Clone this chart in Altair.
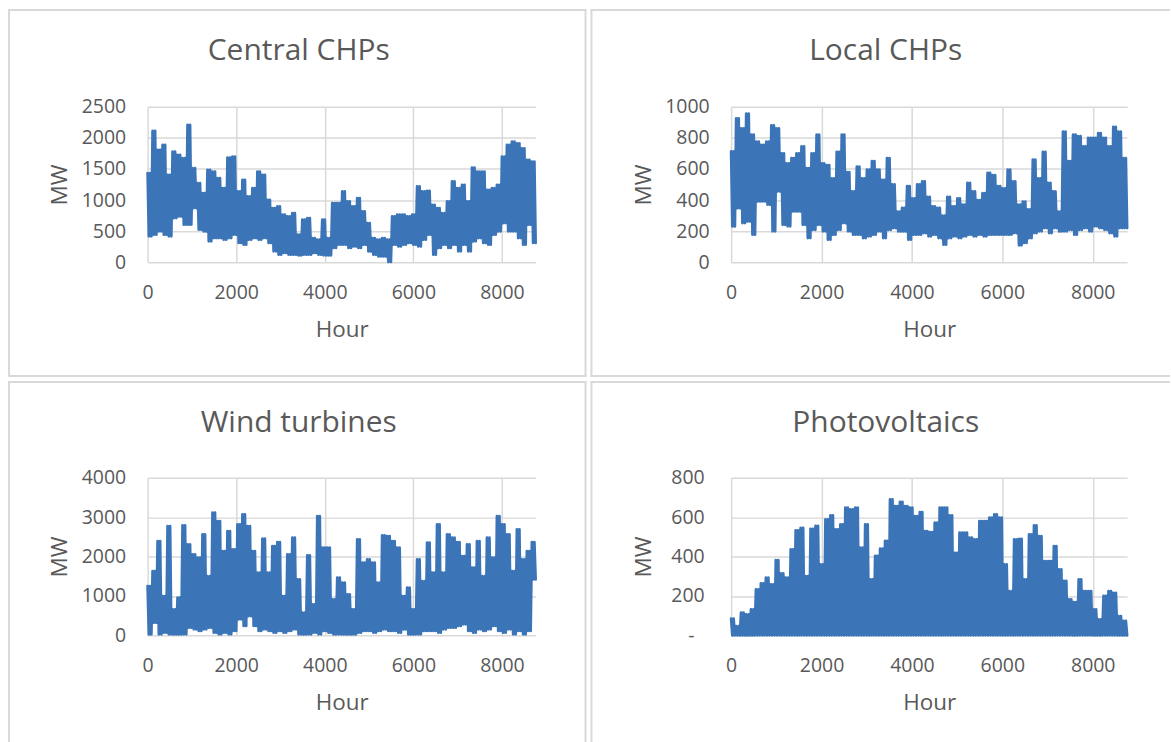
import altair as alt
import pandas as pd

HOURS = 8760
HOUR_TICKS = [0, 2000, 4000, 6000, 8000]
DAY_CYCLES_PER_SLICE = 2  # each slice of the year holds several daily up-and-down swings

# Envelope: for each consecutive slice of the year,
# the daily high and the daily low of the hourly series (MW).
central_hi = [1432, 2110, 1806, 1886, 1405, 1779, 1725, 1672, 2206, 1512, 1271, 1111, 1485, 1458, 1351,
              1191, 1683, 1699, 1138, 1325, 1058, 1191, 1458, 1405, 1004, 871, 897, 764, 737, 791,
              443, 684, 710, 390, 363, 684, 390, 951, 951, 1138, 978, 897, 1031, 817, 630,
              390, 363, 390, 363, 737, 764, 764, 737, 764, 1218, 1138, 1148, 924, 871, 791,
              978, 1298, 1191, 1245, 978, 1522, 1458, 1458, 1165, 1191, 1245, 1699, 1886, 1939, 1912,
              1832, 1645, 1619]
central_lo = [417, 443, 497, 443, 417, 710, 737, 604, 604, 871, 524, 497, 337, 390, 390,
              363, 390, 443, 310, 283, 363, 390, 363, 390, 310, 176, 123, 150, 123, 123,
              112, 123, 123, 150, 123, 112, 112, 230, 283, 283, 230, 256, 230, 283, 176,
              123, 96, 96, 5, 283, 256, 283, 310, 283, 256, 363, 443, 123, 230, 283,
              230, 283, 176, 283, 176, 337, 390, 310, 283, 443, 497, 630, 497, 497, 390,
              283, 604, 310]

local_hi = [712, 925, 860, 955, 820, 775, 755, 775, 880, 860, 700, 635, 670, 700, 745,
            605, 700, 820, 635, 625, 540, 710, 820, 580, 455, 615, 540, 595, 650, 595,
            530, 670, 500, 325, 350, 490, 410, 500, 520, 420, 360, 350, 300, 420, 360,
            410, 370, 510, 455, 400, 445, 575, 560, 490, 475, 595, 520, 370, 390, 340,
            660, 540, 710, 510, 455, 325, 840, 650, 820, 810, 745, 800, 800, 830, 800,
            745, 870, 840, 670]
local_lo = [230, 348, 252, 263, 177, 391, 391, 370, 199, 455, 241, 231, 327, 327, 241,
            156, 209, 241, 199, 145, 177, 209, 252, 199, 177, 177, 156, 167, 177, 199,
            156, 209, 220, 199, 199, 145, 177, 177, 188, 167, 177, 156, 113, 156, 167,
            156, 167, 177, 167, 177, 167, 177, 177, 177, 177, 177, 188, 109, 124, 156,
            188, 199, 220, 188, 220, 199, 199, 209, 177, 209, 220, 199, 231, 220, 209,
            188, 167, 220, 220]

wind_hi = [1252, 1632, 2393, 998, 2774, 660, 956, 2791, 2309, 2055, 1970, 2562, 1505, 3112, 2901,
           2140, 2647, 2182, 2816, 3070, 2774, 2140, 1590, 2452, 1590, 2266, 2368, 998, 2055, 2478,
           1421, 575, 2030, 786, 3027, 2224, 2224, 913, 1463, 1336, 1040, 660, 2436, 1844, 1928,
           1844, 1336, 2537, 2520, 2393, 2224, 998, 1209, 660, 1928, 1378, 2351, 1590, 2816, 1590,
           2562, 2478, 2368, 2013, 2309, 1717, 2393, 1505, 2478, 1970, 3027, 2816, 2562, 1632, 2689,
           1928, 2140, 2368]
wind_lo = [25, 321, 25, 68, 25, 25, 25, 25, 195, 152, 110, 152, 195, 68, 25,
           68, 25, 110, 406, 237, 490, 237, 110, 152, 110, 68, 110, 68, 110, 152,
           25, 25, 25, 68, 25, 110, 68, 25, 25, 25, 25, 25, 68, 110, 110,
           68, 110, 152, 110, 110, 68, 152, 25, 25, 25, 110, 110, 110, 68, 152,
           195, 195, 237, 279, 110, 68, 152, 110, 152, 237, 110, 68, 152, 25, 110,
           25, 110, 1421]

pv_hi = [85, 47, 115, 107, 132, 233, 264, 293, 259, 382, 315, 293, 436, 533, 546,
         301, 541, 555, 360, 589, 609, 538, 563, 648, 639, 648, 445, 563, 284, 403,
         440, 479, 690, 656, 677, 656, 648, 605, 626, 529, 524, 572, 648, 648, 609,
         419, 521, 521, 496, 487, 580, 580, 597, 614, 597, 360, 225, 487, 490, 284,
         512, 558, 504, 377, 377, 453, 335, 276, 183, 169, 284, 225, 225, 132, 81,
         200, 225, 215, 98, 73]
PV_NIGHT = 0  # output falls to zero every night

BLUE = "#3b75b8"
GRID = "#d9d9d9"
TEXT = "#595959"
FONT = "Open Sans"


def series(hi, lo):
    n = len(hi)
    total = 2 * DAY_CYCLES_PER_SLICE * n
    step = HOURS / (total - 1)
    hours, mw = [], []
    k = 0
    for i in range(n):
        for _ in range(DAY_CYCLES_PER_SLICE):
            hours += [k * step, (k + 1) * step]
            mw += [hi[i], lo[i]]
            k += 2
    return pd.DataFrame({"Hour": hours, "MW": mw})


def panel(title, df, y_max, y_step, width, height, edges, dx, dash_zero=False):
    y_axis = dict(values=list(range(0, y_max + 1, y_step)), title="MW", format="d")
    if dash_zero:
        y_axis["labelExpr"] = "datum.value === 0 ? '-\u00a0\u00a0\u200b' : datum.label"
        y_axis["labelPadding"] = 27
    line = alt.Chart(df).mark_line(
        color=BLUE, strokeWidth=2.75, strokeJoin="round", strokeCap="round"
    ).encode(
        x=alt.X("Hour:Q", scale=alt.Scale(domain=[0, HOURS], nice=False),
                axis=alt.Axis(values=HOUR_TICKS, title="Hour", format="d",
                              labelFlush=False, labelOverlap=False)),
        y=alt.Y("MW:Q", scale=alt.Scale(domain=[0, y_max], nice=False),
                axis=alt.Axis(**y_axis)),
    )
    one = pd.DataFrame({"frame": [0]})
    layers = []
    for (x1, y1, x2, y2) in edges:
        enc = {"x": alt.value(x1), "y": alt.value(y1)}
        if x2 != x1:
            enc["x2"] = alt.value(x2)
        if y2 != y1:
            enc["y2"] = alt.value(y2)
        layers.append(alt.Chart(one).mark_rule(color=GRID, strokeWidth=2, strokeCap="square").encode(**enc))
    layers.append(line)
    return alt.layer(*layers).properties(
        width=width, height=height,
        title=alt.TitleParams(title, font=FONT, fontSize=30, fontWeight="normal", color=TEXT,
                              anchor="middle", frame="bounds", offset=0, baseline="alphabetic",
                              dx=dx, dy=81.7),
    )


tl = panel("Central CHPs", series(central_hi, central_lo), 2500, 500, 389, 156,
           [(-139, -97, 439, -97), (-139, 270, 439, 270), (-139, -97, -139, 270), (439, -97, 439, 270)], 1.5)
tr = panel("Local CHPs", series(local_hi, local_lo), 1000, 200, 397, 156,
           [(-140, -97, 439, -97), (-140, 270, 439, 270), (-140, -97, -140, 270)], 5.5)
bl = panel("Wind turbines", series(wind_hi, wind_lo), 4000, 1000, 389, 158,
           [(-139, -96, 439, -96), (-139, -96, -139, 265), (439, -96, 439, 265)], 1.5)
br = panel("Photovoltaics", series(pv_hi, [PV_NIGHT] * len(pv_hi)), 800, 200, 397, 158,
           [(-140, -96, 439, -96), (-140, -96, -140, 265)], 5.5, dash_zero=True)

chart = alt.vconcat(
    alt.hconcat(tl, tr, spacing=2),
    alt.hconcat(bl, br, spacing=2),
    spacing=2,
).properties(
    padding={"left": 7, "top": 7, "right": 0, "bottom": 0},
    background="white",
).configure_view(
    stroke="transparent"
).configure_axis(
    labelFont=FONT, labelFontSize=19.5, labelColor=TEXT,
    titleFont=FONT, titleFontSize=22.5, titleColor=TEXT, titleFontWeight="normal",
    grid=True, gridColor=GRID, gridWidth=1.5, domain=False, ticks=False, tickSize=0,
).configure_axisX(
    labelPadding=21, titlePadding=17
).configure_axisY(
    labelPadding=22, titlePadding=9, minExtent=67, maxExtent=67
)

chart.save("out.html", embed_options={"renderer": "svg", "actions": False})
